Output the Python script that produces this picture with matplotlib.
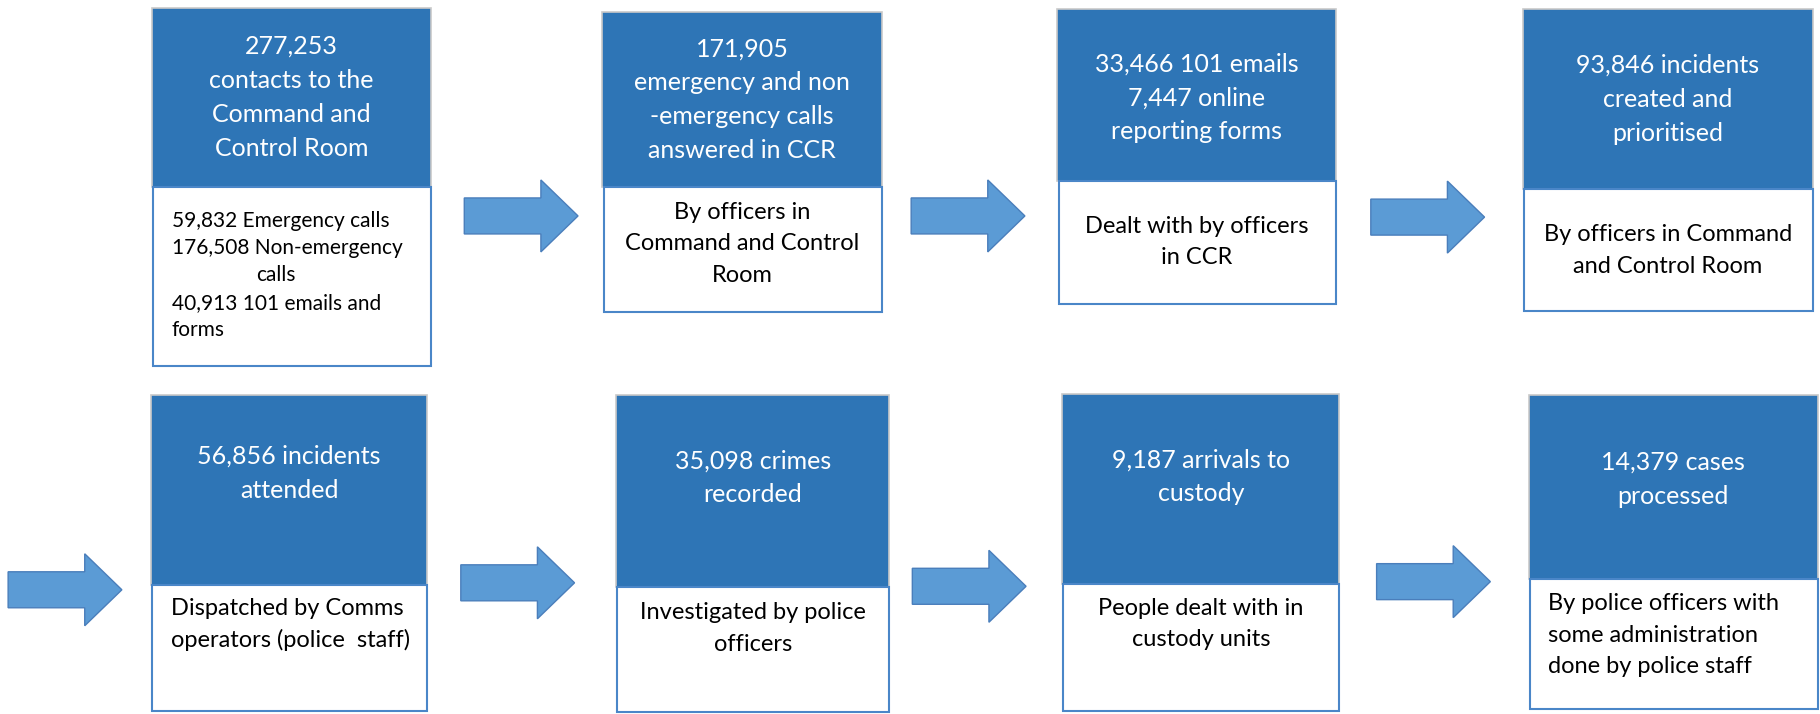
import matplotlib.pyplot as plt
from matplotlib.patches import Rectangle, FancyArrow

plt.rcParams['font.family'] = ['Lato', 'DejaVu Sans']

# headline text (white, in the dark blue part of each box)
headlines = [
    ['277,253', 'contacts to the', 'Command and', 'Control Room'],
    ['171,905', 'emergency and non', '-emergency calls', 'answered in CCR'],
    ['33,466 101 emails', '7,447 online', 'reporting forms'],
    ['93,846 incidents', 'created and', 'prioritised'],
    ['56,856 incidents', 'attended'],
    ['35,098 crimes', 'recorded'],
    ['9,187 arrivals to', 'custody'],
    ['14,379 cases', 'processed'],
]

# description text (black, in the white part of each box)
details = [
    ['59,832 Emergency calls', '176,508 Non-emergency', 'calls', '40,913 101 emails and', 'forms'],
    ['By officers in', 'Command and Control', 'Room'],
    ['Dealt with by officers', 'in CCR'],
    ['By officers in Command', 'and Control Room'],
    ['Dispatched by Comms', 'operators (police  staff)'],
    ['Investigated by police', 'officers'],
    ['People dealt with in', 'custody units'],
    ['By police officers with', 'some administration', 'done by police staff'],
]

# layout (pixel space of a 1568 x 615 canvas)
# x0, x1, top, split, bottom
boxes = [
    (131, 371, 7, 161, 315),
    (519, 760, 10, 161, 269),
    (911, 1151, 8, 156, 262),
    (1312, 1562, 8, 163, 268),
    (130, 368, 340, 504, 612),
    (531, 766, 340, 506, 613),
    (915, 1154, 339, 503, 612),
    (1317, 1566, 340, 499, 611),
]
head_y0 = [40, 42, 55, 56, 393, 397, 396, 398]
head_gap = 29.3
det_y0 = [190, 183, 195, 202, 524, 528, 524, 520]
det_gap = [23.6, 27, 27, 27.5, 27, 27, 27, 27]
det_align = ['left', 'center', 'center', 'center', 'left', 'center', 'center', 'left']
det_size = [15, 17, 17, 17, 17, 17, 17, 17]

arrows = [(400, 186), (785, 186), (1181, 187),
          (7, 508), (397, 502), (786, 505), (1186, 501)]

dark = '#2E75B6'
light = '#5B9BD5'

fig = plt.figure(figsize=(18.2, 7.14), dpi=100)
ax = fig.add_axes([0, 0, 1, 1])
ax.set_xlim(0, 1568)
ax.set_ylim(615, 0)
ax.axis('off')

for i, (x0, x1, top, split, bot) in enumerate(boxes):
    ax.add_patch(Rectangle((x0, top), x1 - x0, split - top, facecolor=dark,
                           edgecolor='#C9C9C9', lw=1.2, zorder=2))
    ax.add_patch(Rectangle((x0 + 1, split), x1 - x0 - 1, bot - split, facecolor='white',
                           edgecolor='#4A86C8', lw=1.5, zorder=3))
    cx = (x0 + x1) / 2
    for k, line in enumerate(headlines[i]):
        ax.text(cx, head_y0[i] + k * head_gap, line, color='white', fontsize=18,
                ha='center', va='center', zorder=4)
    for k, line in enumerate(details[i]):
        y = det_y0[i] + k * det_gap[i]
        if det_align[i] == 'left':
            if i == 0 and line == 'calls':
                ax.text(238, y, line, fontsize=det_size[i], ha='center', va='center', zorder=4)
            else:
                ax.text(x0 + 17, y, line, fontsize=det_size[i], ha='left', va='center', zorder=4)
        else:
            ax.text(cx, y, line, fontsize=det_size[i], ha='center', va='center', zorder=4)

for ax_x, ax_y in arrows:
    ax.add_patch(FancyArrow(ax_x, ax_y, 98, 0, width=31, head_width=62, head_length=32,
                            length_includes_head=True, facecolor=light,
                            edgecolor='#4A7EBB', lw=1, zorder=2))

fig.savefig('out.png', dpi=100)
